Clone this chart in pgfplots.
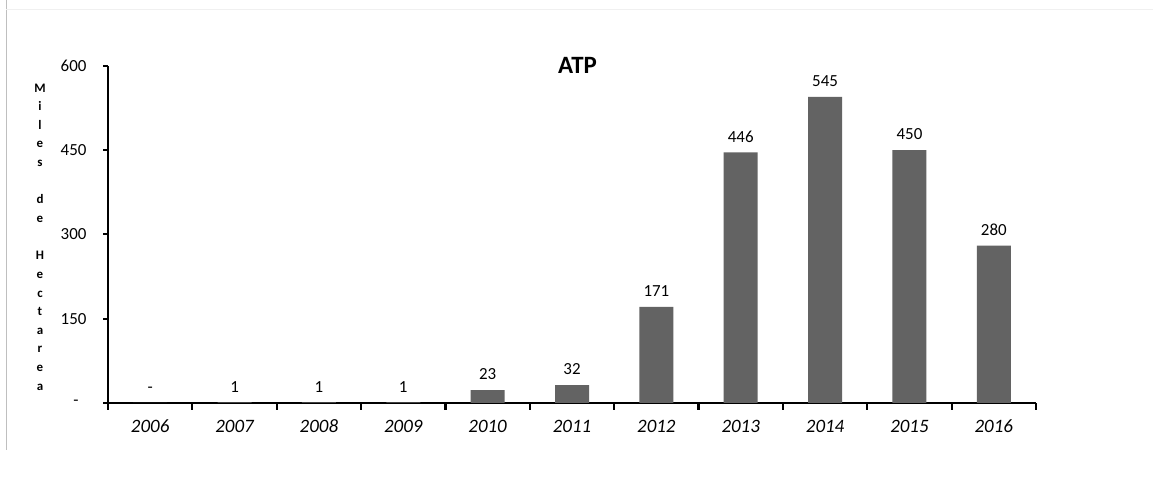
\documentclass[border=0pt]{standalone}
\usepackage{pgfplots}
\pgfplotsset{compat=1.18}
\usepackage{fontspec}
\setmainfont{Carlito}[Numbers=Lining]
\definecolor{barc}{RGB}{99,99,99}
\begin{document}
\begin{tikzpicture}[x=1bp,y=1bp]
\useasboundingbox (0,0) rectangle (1153,478);
\fill[white] (0,0) rectangle (1153,478);
\draw[black!25, line width=1bp] (6,478) -- (6,28);
\draw[black!6, line width=1bp] (6,468) -- (1153,468);
\begin{axis}[
  at={(108bp,75bp)}, anchor=south west,
  scale only axis, width=928bp, height=337bp,
  xmin=-0.5, xmax=10.5, ymin=0, ymax=600,
  enlargelimits=false, clip=false,
  axis x line=bottom, axis y line=left,
  axis line style={-, line width=2.2bp, black},
  xtick={0,...,10},
  xticklabels={2006,2007,2008,2009,2010,2011,2012,2013,2014,2015,2016},
  major x tick style={draw=none},
  xticklabel style={font=\fontsize{19}{22}\selectfont\itshape, text height=13bp, text depth=0bp, yshift=-8bp},
  extra x ticks={-0.5,0.5,1.5,2.5,3.5,4.5,5.5,6.5,7.5,8.5,9.5,10.5},
  extra x tick labels={},
  extra x tick style={major tick length=7bp, tick align=outside,
     major x tick style={draw=black, line width=2.2bp}},
  ytick={0,150,300,450,600},
  yticklabels={{-\kern8bp},150,300,450,600},
  tick align=outside, major tick length=5bp,
  major y tick style={line width=2bp, black},
  yticklabel style={font=\fontsize{17}{20}\selectfont, xshift=-13bp},
  ylabel={M\\i\\l\\e\\s\\\mbox{}\\d\\e\\\mbox{}\\H\\e\\c\\t\\a\\r\\e\\a},
  ylabel style={rotate=-90, at={(axis description cs:-0.0733,0.4926)}, anchor=center,
     align=center, font=\fontsize{13}{18.7}\selectfont\bfseries},
  nodes near coords, point meta=explicit symbolic,
  every node near coord/.style={font=\fontsize{17}{20}\selectfont, anchor=south, inner sep=2bp, yshift=8bp, black},
]
\addplot[ybar, fill=barc, draw=none, bar width=34bp] table[meta=lab] {
x y lab
0 0 -
1 1 1
2 1 1
3 1 1
4 23 23
5 32 32
6 171 171
7 446 446
8 545 545
9 450 450
10 280 280
};
\node[font=\fontsize{25}{28}\selectfont\bfseries, anchor=center, inner sep=0pt]
  at (axis description cs:0.506,1.003) {ATP};
\end{axis}
\end{tikzpicture}
\end{document}
